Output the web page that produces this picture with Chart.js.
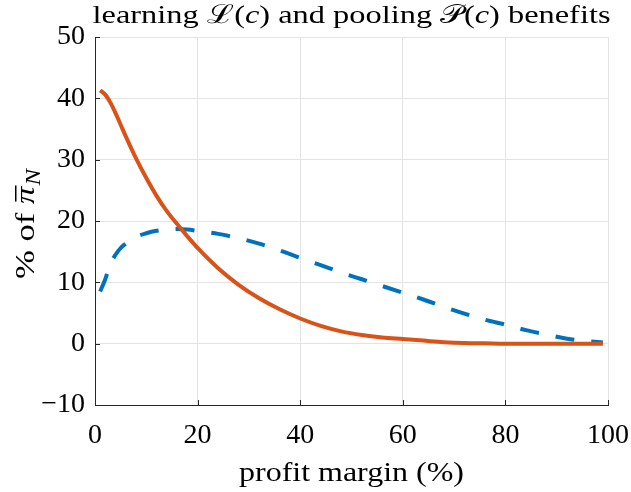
<!DOCTYPE html>
<html>
<head>
<meta charset="utf-8">
<script src="https://cdn.jsdelivr.net/npm/chart.js@4.4.1/dist/chart.umd.min.js"></script>
<style>
  html, body { margin: 0; padding: 0; background: #fff; }
  #wrap { width: 631px; height: 492px; }
</style>
</head>
<body>
<div id="wrap"><canvas id="chart" width="631" height="492"></canvas></div>
<script>
// profit margin (%) sample points
const margins = [1, 2, 3, 4, 5, 6, 8, 10, 12, 14, 16, 18, 20, 24, 28, 32, 36, 40, 44, 48,
                 52, 56, 60, 64, 68, 72, 76, 80, 84, 88, 92, 96, 99];
// learning benefit L(c), % of pi_N (solid orange)
const learning = [41.3, 40.6, 39.3, 37.6, 35.7, 33.8, 30.2, 27.0, 24.1, 21.6, 19.5, 17.5, 15.6, 12.3, 9.6, 7.4, 5.6, 4.1, 2.9, 2.0,
                  1.4, 1.0, 0.75, 0.5, 0.25, 0.1, 0.05, 0, 0, 0, 0, 0, 0];
// pooling benefit P(c), % of pi_N (dashed blue)
const pooling = [8.5, 10.5, 13.0, 14.5, 15.6, 16.3, 17.4, 18.0, 18.4, 18.6, 18.7, 18.6, 18.4, 17.9, 17.2, 16.3, 15.2, 14.0, 12.8, 11.6,
                 10.5, 9.4, 8.3, 7.2, 6.0, 4.9, 3.9, 3.1, 2.2, 1.5, 0.8, 0.4, 0.2];
const xTicks = [0, 20, 40, 60, 80, 100];
const yTicks = [-10, 0, 10, 20, 30, 40, 50];

const SERIF = "'Liberation Serif', 'DejaVu Serif', serif";
const AXIS = '#262626';
const GRID = '#e3e3e3';

function pts(ys){ return margins.map((x, i) => ({ x: x, y: ys[i] })); }

// MATLAB-style inward ticks on left and bottom axes
const innerTicks = {
  id: 'innerTicks',
  afterDatasetsDraw(chart){
    const ctx = chart.ctx, xs = chart.scales.x, ys = chart.scales.y;
    ctx.save();
    ctx.strokeStyle = AXIS;
    ctx.lineWidth = 1;
    ctx.beginPath();
    xTicks.forEach(v => {
      const p = Math.round(xs.getPixelForValue(v)) + 0.5;
      ctx.moveTo(p, ys.bottom); ctx.lineTo(p, ys.bottom - 5);
    });
    yTicks.forEach(v => {
      const p = Math.round(ys.getPixelForValue(v)) + 0.5;
      ctx.moveTo(xs.left, p); ctx.lineTo(xs.left + 5, p);
    });
    ctx.stroke();
    ctx.restore();
  }
};

// draw a run of [text, font, dy] parts centred at 0, squeezed/stretched to width w
function drawRun(ctx, parts, w){
  let total = 0;
  parts.forEach(p => { ctx.font = p[1]; total += ctx.measureText(p[0]).width + (p[3] || 0); });
  const k = w / total;
  ctx.scale(k, 1);
  let x = -total / 2;
  parts.forEach(p => {
    ctx.font = p[1];
    const tw = ctx.measureText(p[0]).width;
    ctx.fillText(p[0], x, p[2] || 0);
    if (p[4]) ctx.fillRect(x + 2, -19, tw - 1, 1.5);   // overbar
    x += tw + (p[3] || 0);
  });
}

// title and axis titles with math bits
const labels = {
  id: 'labels',
  afterDraw(chart){
    const ctx = chart.ctx, a = chart.chartArea;
    const cx = (a.left + a.right) / 2;
    const F = '26px ' + SERIF, FI = 'italic 26px ' + SERIF;
    ctx.fillStyle = '#000';
    ctx.textBaseline = 'alphabetic';

    ctx.save();
    ctx.translate(cx, 23);
    drawRun(ctx, [
      ['learning ', F], ['\u2112', F], ['(', F], ['c', FI], [') and pooling ', F],
      ['\uD835\uDCAB', F], ['(', F], ['c', FI], [') benefits', F]
    ], 518);
    ctx.restore();

    ctx.save();
    ctx.translate(cx, 481);
    drawRun(ctx, [['profit margin (%)', '28px ' + SERIF]], 225);
    ctx.restore();

    ctx.save();
    ctx.translate(34, (a.top + a.bottom) / 2 + 3);
    ctx.rotate(-Math.PI / 2);
    drawRun(ctx, [
      ['% of ', '28px ' + SERIF],
      ['\u03C0', 'italic 28px ' + SERIF, 0, 1, true],
      ['N', 'italic 20px ' + SERIF, 6]
    ], 110);
    ctx.restore();
  }
};

new Chart(document.getElementById('chart'), {
  type: 'line',
  data: {
    datasets: [
      {
        label: 'learning',
        data: pts(learning),
        borderColor: '#D95319',
        borderWidth: 4,
        pointRadius: 0,
        cubicInterpolationMode: 'monotone',
        fill: false
      },
      {
        label: 'pooling',
        data: pts(pooling),
        borderColor: '#0072BD',
        borderWidth: 4,
        borderDash: [19, 17],
        pointRadius: 0,
        cubicInterpolationMode: 'monotone',
        fill: false
      }
    ]
  },
  options: {
    responsive: false,
    animation: false,
    events: [],
    layout: { padding: { top: 37, right: 23, left: 0, bottom: 0 } },
    plugins: { legend: { display: false }, tooltip: { enabled: false }, title: { display: false } },
    scales: {
      x: {
        type: 'linear',
        min: 0, max: 100,
        afterBuildTicks: s => { s.ticks = xTicks.map(v => ({ value: v })); },
        afterFit: s => { s.height = 87; s.paddingLeft = 0; s.paddingRight = 0; },
        grid: { color: GRID, drawTicks: false, lineWidth: 1 },
        border: { color: AXIS, width: 1 },
        ticks: { color: '#000', padding: 14, font: { family: SERIF, size: 28 }, maxRotation: 0 }
      },
      y: {
        min: -10, max: 50,
        afterBuildTicks: s => { s.ticks = yTicks.map(v => ({ value: v })); },
        afterFit: s => { s.width = 95; s.paddingTop = 0; s.paddingBottom = 0; },
        grid: { color: GRID, drawTicks: false, lineWidth: 1 },
        border: { color: AXIS, width: 1 },
        ticks: {
          color: '#000', padding: 10, font: { family: SERIF, size: 28 },
          callback: v => String(v).replace('-', '\u2212')
        }
      }
    }
  },
  plugins: [innerTicks, labels]
});
</script>
</body>
</html>
